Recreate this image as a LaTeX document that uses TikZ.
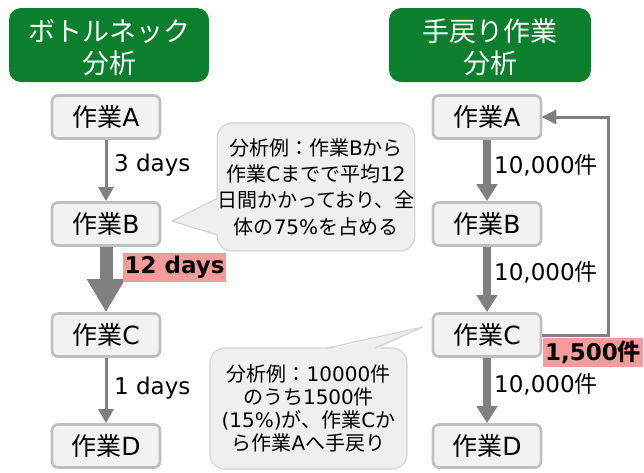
\documentclass[tikz,border=0pt]{standalone}
\usepackage{fontspec}
\setmainfont{DejaVu Sans}
\newfontfamily\jp{Noto Sans CJK JP}
\usetikzlibrary{arrows.meta}
\definecolor{hdrgreen}{HTML}{0B7F2D}
\definecolor{boxfill}{HTML}{F2F2F2}
\definecolor{boxline}{HTML}{BFBFBF}
\definecolor{arrgray}{HTML}{808080}
\definecolor{hilite}{HTML}{F49C9C}
\definecolor{callfill}{HTML}{EFEFEF}
\definecolor{callline}{HTML}{D4D4D4}
\begin{document}
\begin{tikzpicture}[x=1pt,y=-1pt,
 hdr/.style={fill=hdrgreen, rounded corners=12pt, minimum width=200pt, minimum height=74pt, inner sep=0pt},
 hdrtext/.style={text=white, align=center, font=\jp\fontsize{27}{32}\selectfont, inner sep=0pt},
 task/.style={fill=boxfill, draw=boxline, line width=2.7pt, rounded corners=6pt, minimum width=108pt, minimum height=43pt, font=\fontsize{25}{28}\selectfont, inner sep=0pt},
 lbl/.style={anchor=west, font=\fontsize{23}{27}\selectfont, inner sep=0pt},
 hl/.style={fill=hilite, font=\bfseries\fontsize{23}{27}\selectfont, inner xsep=2pt, inner ysep=0pt, minimum height=29pt},
 thinarr/.style={draw=arrgray, line width=3pt, -{Triangle[width=15pt,length=14pt]}},
 midarr/.style={draw=arrgray, line width=8pt, -{Triangle[width=20pt,length=17pt]}},
 bigarr/.style={draw=arrgray, line width=13pt, -{Triangle[width=36pt,length=33pt]}},
 fbarr/.style={draw=arrgray, line width=3pt, -{Triangle[width=14pt,length=15pt]}},
 callbox/.style={fill=callfill, draw=callline, line width=1.2pt, rounded corners=15pt, align=center, inner sep=0pt},
 callptr/.style={draw=callline, line width=1.2pt},
]
\useasboundingbox (0,0) rectangle (644,472);

% headers
\node[hdr] (h1) at (109,45) {};
\node[hdrtext] (h1t) at (109,47.5) {ボトルネック\\分析};
\node[hdr, minimum width=202pt] (h2) at (490,45) {};
\node[hdrtext] (h2t) at (490,47.5) {手戻り作業\\分析};

% left column
\node[task] (lA) at (106,117) {{\jp 作業}A};
\node[task] (lB) at (106,224) {{\jp 作業}B};
\node[task] (lC) at (106,335) {{\jp 作業}C};
\node[task] (lD) at (106,446) {{\jp 作業}D};

\draw[thinarr] (lA.south) -- (lB.north);
\draw[bigarr] (lB.south) -- (lC.north);
\draw[thinarr] (lC.south) -- (lD.north);

\node[lbl] (t1) at (114,165) {3 days};
\node[hl] (t2) at (174.5,267) {12 days};
\node[lbl] (t3) at (114,388) {1 days};

% right column
\node[task] (rA) at (487,117) {{\jp 作業}A};
\node[task] (rB) at (487,224) {{\jp 作業}B};
\node[task] (rC) at (487,335) {{\jp 作業}C};
\node[task] (rD) at (487,446) {{\jp 作業}D};

\draw[midarr] (rA.south) -- (rB.north);
\draw[midarr] (rB.south) -- (rC.north);
\draw[midarr] (rC.south) -- (rD.north);

\coordinate (fbx) at (608,0);
\draw[fbarr, shorten >=-1pt] (rC.east) -- (rC.east -| fbx) -- (rA.east -| fbx) -- (rA.east);

\node[lbl] (n1) at (494,165) {10,000{\jp 件}};
\node[lbl] (n2) at (494,272) {10,000{\jp 件}};
\node[lbl] (n3) at (494,384) {10,000{\jp 件}};
\node[hl] (n4) at (593,352) {1,500{\jp\bfseries 件}};

% callout 1
\node[callbox, minimum width=196pt, minimum height=128pt, font=\fontsize{20}{26.3}\selectfont] (co1) at (316,187)
 {{\jp 分析例：作業}B{\jp から}\\{\jp 作業}C{\jp までで平均}12\\{\jp 日間かかっており、全}\\{\jp 体の}75\%{\jp を占める}};
\coordinate (tip1) at (172,221);
\coordinate (p1a) at (218,198);
\coordinate (p1b) at (218,235);
\fill[callfill] (220,197) -- (tip1) -- (220,236) -- cycle;
\draw[callptr] (p1a) -- (tip1) -- (p1b);

% callout 2
\node[callbox, minimum width=197pt, minimum height=121pt, font=\fontsize{20}{23}\selectfont] (co2) at (308.5,408.5)
 {{\jp 分析例：}10000{\jp 件}\\{\jp のうち}1500{\jp 件}\\(15\%){\jp が、作業}C{\jp か}\\{\jp ら作業}A{\jp へ手戻り}};
\coordinate (tip2) at (423,327);
\coordinate (p2a) at (327,348);
\coordinate (p2b) at (375,348);
\fill[callfill] (326,350) -- (tip2) -- (376,350) -- cycle;
\draw[callptr] (p2a) -- (tip2) -- (p2b);
\end{tikzpicture}
\end{document}
